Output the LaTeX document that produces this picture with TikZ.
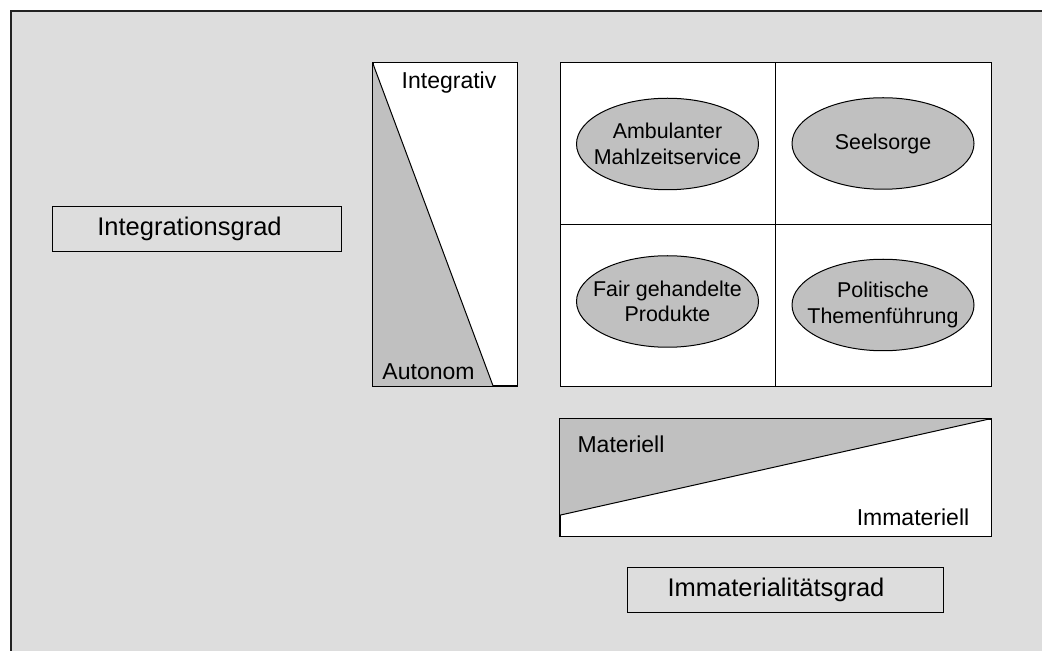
\documentclass[tikz,border=0pt]{standalone}
\usepackage{fontspec}
\setmainfont{Liberation Sans}
\usepackage{xcolor}
\usepackage{tikz}
\usetikzlibrary{positioning,calc,shapes.geometric}
\definecolor{PanelGrey}{HTML}{DDDDDD}
\definecolor{ShadeGrey}{HTML}{C0C0C0}
\definecolor{FrameDark}{HTML}{222222}
\newcommand{\bigfont}{\fontsize{12.75}{15}\selectfont}
\newcommand{\barfont}{\fontsize{11.5}{14}\selectfont}
\newcommand{\ovalfont}{\fontsize{10.7}{12.8}\selectfont}

\begin{document}
\begin{tikzpicture}[x=0.5pt,y=-0.5pt,line width=0.5pt,
 axisbox/.style={draw,inner sep=0pt,minimum height=22.5pt,font=\bigfont},
 barbox/.style={draw,fill=white,inner sep=0pt},
 cell/.style={draw,fill=white,inner sep=0pt,minimum width=107.75pt,minimum height=81pt},
 oval/.style={draw,ellipse,fill=ShadeGrey,inner sep=0pt,minimum width=91pt,minimum height=45.75pt},
 ovaltext/.style={align=center,font=\ovalfont},
 barlabel/.style={inner sep=0pt,font=\barfont}]
\useasboundingbox (0,0) rectangle (1042,651);
% background panel
\fill[PanelGrey] (11,11) rectangle (1042,651);
\draw[FrameDark,line width=1.2pt] (11,651) -- (11,11) -- (1042,11);
% axis titles
\node[axisbox,minimum width=144.5pt] (integ) at (196.5,229) {Integrationsgrad\hspace*{7pt}};
\node[axisbox,minimum width=158pt] (immat) at (785,589.5) {Immaterialitätsgrad\hspace*{9pt}};
% vertical bar
\node[barbox,minimum width=72pt,minimum height=161.5pt] (vbar) at (445,224.5) {};
\coordinate (vtip) at ($(vbar.south west)!0.833!(vbar.south east)$);
\fill[ShadeGrey] (vbar.north west) -- (vtip) -- (vbar.south west) -- cycle;
\draw (vbar.north west) -- (vtip);
\draw (vbar.north west) rectangle (vbar.south east);
\node[barlabel] (hi) at (449,83) {Integrativ};
\node[barlabel] (lo) at (428.5,372) {Autonom};
% horizontal bar
\node[barbox,minimum width=215.5pt,minimum height=58.5pt] (hbar) at (775.5,477.5) {};
\coordinate (htip) at ($(hbar.north west)!0.82!(hbar.south west)$);
\fill[ShadeGrey] (hbar.north west) -- (hbar.north east) -- (htip) -- cycle;
\draw (htip) -- (hbar.north east);
\draw (hbar.north west) rectangle (hbar.south east);
\node[barlabel] (mat) at (621,444) {Materiell};
\node[barlabel] (imm) at (913,517) {Immateriell};
% matrix of cells
\node[cell] (c11) at (668,144) {};
\node[cell] (c12) at (883.5,144) {};
\node[cell] (c21) at (668,306) {};
\node[cell] (c22) at (883.5,306) {};
\node[oval,label={[ovaltext]center:Ambulanter\\Mahlzeitservice}] (amb) at (667.5,144) {};
\node[oval,label={[ovaltext]center:Seelsorge}] (see) at (883,143.5) {};
\node[oval,label={[ovaltext]center:Fair gehandelte\\Produkte}] (fair) at (667.5,301.5) {};
\node[oval,label={[ovaltext]center:Politische\\Themenführung}] (pol) at (883,305) {};
\end{tikzpicture}
\end{document}
